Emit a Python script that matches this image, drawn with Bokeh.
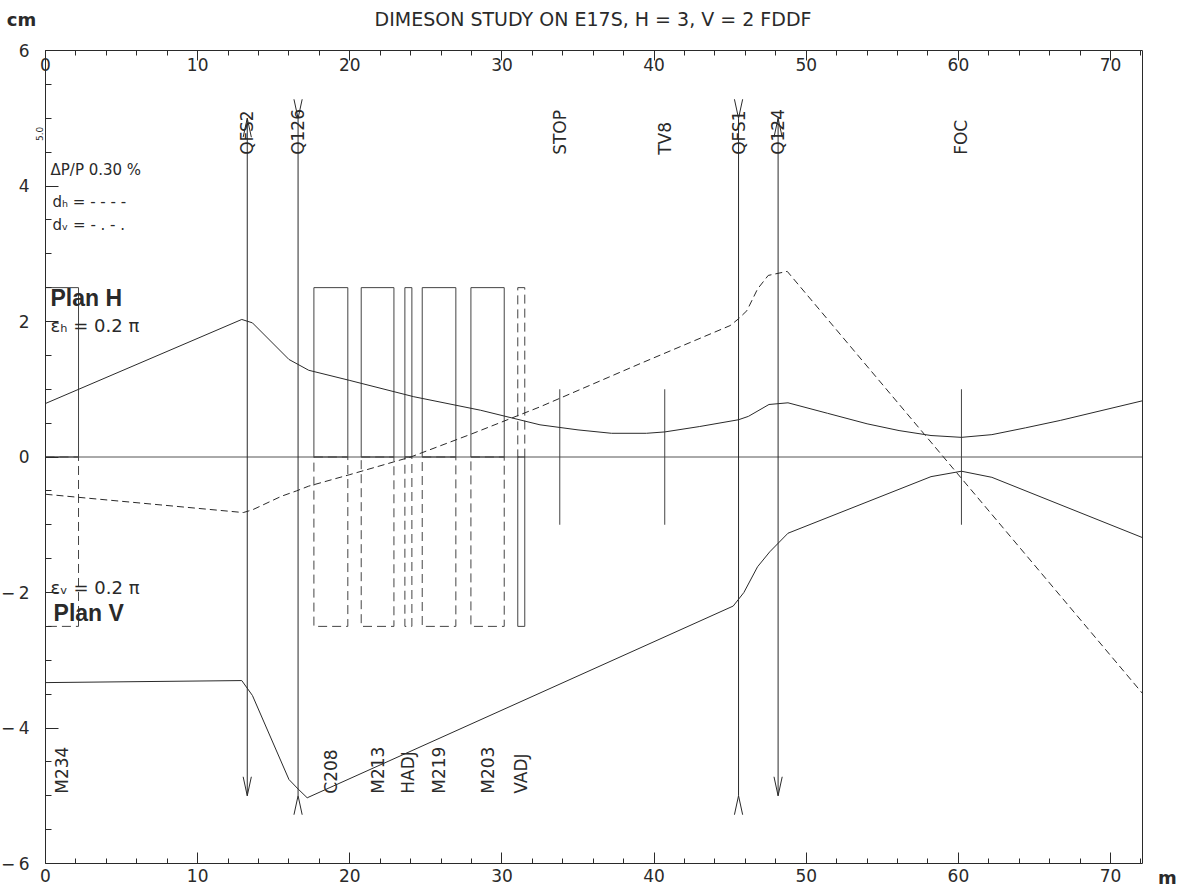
import math
from bokeh.plotting import figure
from bokeh.models import Range1d, FixedTicker, LinearAxis, Label, CustomJSTickFormatter
from bokeh.core.properties import value
from bokeh.embed import file_html
from bokeh.resources import INLINE

# ---------------- data ----------------
X_MAX = 72.1
Y_MIN, Y_MAX = -6, 6
x_major = [0, 10, 20, 30, 40, 50, 60, 70]
x_minor = [v for v in range(2, 73, 2) if v % 10]
y_major = [-6, -4, -2, 0, 2, 4, 6]
y_minor = [v / 2 for v in range(-11, 12) if v % 4]

# horizontal envelope (cm) vs s (m)
env_h_x = [0, 12.9, 13.6, 16.0, 17.3, 20.0, 24.2, 28.6, 32.5, 35.0, 37.2, 39.5,
           40.7, 43.0, 45.55, 46.2, 47.55, 48.8, 51.4, 54.0, 56.1, 58.2, 60.2,
           62.2, 64.4, 66.7, 72.1]
env_h_y = [0.79, 2.03, 1.98, 1.44, 1.28, 1.13, 0.89, 0.69, 0.475, 0.40, 0.35, 0.35,
           0.37, 0.45, 0.55, 0.60, 0.775, 0.80, 0.645, 0.49, 0.39, 0.317, 0.29,
           0.33, 0.43, 0.54, 0.83]

# horizontal dispersion d_h (dashed)
disp_h_x = [0, 13.0, 13.6, 15.5, 16.5, 17.3, 20.0, 24.0, 28.0, 32.5, 39.1, 45.0,
            45.55, 46.1, 46.8, 47.5, 48.75, 72.1]
disp_h_y = [-0.55, -0.82, -0.78, -0.58, -0.50, -0.43, -0.26, 0.0, 0.34, 0.74, 1.38,
            1.94, 2.04, 2.16, 2.48, 2.68, 2.74, -3.49]

# vertical envelope (drawn negative)
env_v_x = [0, 12.9, 13.6, 16.0, 16.6, 17.2, 45.2, 45.9, 46.8, 47.6, 48.8, 58.2,
           60.2, 62.2, 72.1]
env_v_y = [-3.33, -3.30, -3.52, -4.76, -4.90, -5.03, -2.20, -2.00, -1.62, -1.40,
           -1.125, -0.29, -0.21, -0.30, -1.19]

# magnets (bending / correctors)
mag_names = ["M234", "C208", "M213", "HADJ", "M219", "M203", "VADJ"]
mag_start = [0.0, 17.64, 20.75, 23.62, 24.76, 27.96, 31.04]
mag_end = [2.17, 19.87, 22.90, 24.08, 26.97, 30.15, 31.50]
mag_plane = ["H", "H", "H", "H", "H", "H", "V"]
MAG_HALF = 2.5

# quadrupoles
quad_names = ["QFS2", "Q126", "QFS1", "Q124"]
quad_pos = [13.26, 16.60, 45.55, 48.15]
quad_type = ["F", "D", "D", "F"]
QUAD_HALF = 5.0

# monitors / markers
mon_names = ["STOP", "TV8", "FOC"]
mon_pos = [33.8, 40.7, 60.2]
MON_HALF = 1.0

TITLE = "DIMESON STUDY ON E17S, H = 3, V = 2 FDDF"

# ---------------- style / layout ----------------
INK = "#2a2a2a"
FONT = "DejaVu Sans"
W, H = 1185, 890
ML, MR, MT, MB = 45, 43, 50, 27          # margins of the drawing box (px)
PX_X = (W - ML - MR) / X_MAX              # px per m
PX_Y = (H - MT - MB) / (Y_MAX - Y_MIN)    # px per cm

p = figure(width=W, height=H,
           x_range=Range1d(-ML / PX_X, X_MAX + MR / PX_X),
           y_range=Range1d(Y_MIN - MB / PX_Y, Y_MAX + MT / PX_Y),
           output_backend="svg", toolbar_location=None,
           x_axis_type=None, y_axis_type=None,
           min_border=0, min_border_left=0, min_border_right=0,
           min_border_top=0, min_border_bottom=0)
p.xgrid.visible = False
p.ygrid.visible = False
p.outline_line_color = None
p.background_fill_color = "white"
p.border_fill_color = "white"


def style_axis(ax, tin, tout, mtin, mtout):
    ax.axis_line_color = INK
    ax.axis_line_width = 1
    ax.major_tick_line_color = INK
    ax.minor_tick_line_color = INK
    ax.major_tick_in = tin
    ax.major_tick_out = tout
    ax.minor_tick_in = mtin
    ax.minor_tick_out = mtout
    ax.major_label_text_font = FONT
    ax.major_label_text_font_size = "17px"
    ax.major_label_text_color = INK


xt = FixedTicker(ticks=x_major, minor_ticks=x_minor)
yt = FixedTicker(ticks=y_major, minor_ticks=y_minor)

bottom = LinearAxis(ticker=xt, fixed_location=Y_MIN, bounds=(0, X_MAX))
style_axis(bottom, 11, 0, 5, 0)
bottom.major_label_standoff = 5
p.add_layout(bottom, "below")

# top frame edge: ticks hang down into the box, labels inside the box
top = LinearAxis(ticker=FixedTicker(ticks=x_major, minor_ticks=x_minor),
                 fixed_location=Y_MAX, bounds=(0, X_MAX))
style_axis(top, 0, 10, 0, 5)
top.major_label_standoff = -3
p.add_layout(top, "below")

left = LinearAxis(ticker=yt, fixed_location=0, bounds=(Y_MIN, Y_MAX))
style_axis(left, 13, 0, 6, 0)
left.major_label_standoff = 16
left.formatter = CustomJSTickFormatter(
    code="return tick < 0 ? '\\u2212\\u2009' + Math.abs(tick) : String(tick);")
p.add_layout(left, "left")

right = LinearAxis(ticker=FixedTicker(ticks=[]), fixed_location=X_MAX,
                   bounds=(Y_MIN, Y_MAX))
style_axis(right, 0, 0, 0, 0)
p.add_layout(right, "right")

# zero line
p.segment(x0=[0], y0=[0], x1=[X_MAX], y1=[0], line_color="#555", line_width=1)

# magnets
groups = {("up", "solid"): ([], []), ("up", "dash"): ([], []),
          ("lo", "solid"): ([], []), ("lo", "dash"): ([], [])}
for s, e, pl in zip(mag_start, mag_end, mag_plane):
    ku = ("up", "solid" if pl == "H" else "dash")
    kl = ("lo", "dash" if pl == "H" else "solid")
    for k in (ku, kl):
        groups[k][0].append(s)
        groups[k][1].append(e)
for (half, style), (ls, rs) in groups.items():
    if not ls:
        continue
    bot, topv = (0, MAG_HALF) if half == "up" else (-MAG_HALF, 0)
    p.quad(left=ls, right=rs, bottom=bot, top=topv, fill_color=None,
           line_color="#444", line_width=1,
           line_dash="solid" if style == "solid" else "9 5")

# quadrupoles
p.segment(x0=quad_pos, y0=[-QUAD_HALF] * len(quad_pos), x1=quad_pos,
          y1=[QUAD_HALF] * len(quad_pos), line_color=INK, line_width=1)
AW, AH = 0.27, 0.28
hx, hy = [], []
for xq, t in zip(quad_pos, quad_type):
    sgn = -1 if t == "F" else 1
    hx.append([xq - AW, xq, xq + AW])
    hy.append([QUAD_HALF + sgn * AH, QUAD_HALF, QUAD_HALF + sgn * AH])
    hx.append([xq - AW, xq, xq + AW])
    hy.append([-QUAD_HALF - sgn * AH, -QUAD_HALF, -QUAD_HALF - sgn * AH])
p.multi_line(xs=hx, ys=hy, line_color=INK, line_width=1)

# monitors
p.segment(x0=mon_pos, y0=[-MON_HALF] * len(mon_pos), x1=mon_pos,
          y1=[MON_HALF] * len(mon_pos), line_color="#444", line_width=1)

# curves
p.line(env_h_x, env_h_y, line_color=INK, line_width=1)
p.line(env_v_x, env_v_y, line_color=INK, line_width=1)
p.line(disp_h_x, disp_h_y, line_color=INK, line_width=1, line_dash="7 4")

# element labels (vertical)
top_names = quad_names + mon_names
top_x = quad_pos + mon_pos
p.text(x=top_x, y=[4.46] * len(top_x), text=top_names, angle=math.pi / 2,
       text_align="left", text_baseline="middle", text_font=value(FONT),
       text_font_size="17px", text_color=INK)
mag_mid = [(s + e) / 2 for s, e in zip(mag_start, mag_end)]
p.text(x=mag_mid, y=[-4.97] * len(mag_mid), text=mag_names, angle=math.pi / 2,
       text_align="left", text_baseline="middle", text_font=value(FONT),
       text_font_size="17px", text_color=INK)


def lab(x, y, t, size, bold=False, align="left", angle=0.0, font=FONT):
    p.add_layout(Label(x=x, y=y, text=t, text_font=font, text_font_size=size,
                       text_font_style="bold" if bold else "normal", text_color=INK,
                       text_align=align, text_baseline="middle", angle=angle))


lab(0.33, 4.23, "ΔP/P 0.30 %", "15px")
lab(0.46, 3.76, "dₕ = - - - -", "15px")
lab(0.46, 3.43, "dᵥ = - . - .", "15px")
lab(0.33, 2.34, "Plan H", "23px", bold=True, font="Liberation Sans")
lab(0.33, 1.94, "εₕ = 0.2 π", "18px")
lab(0.33, -1.93, "εᵥ = 0.2 π", "18px")
lab(0.53, -2.30, "Plan V", "23px", bold=True, font="Liberation Sans")
lab(-6 / PX_X, 4.77, "5.0", "9px", align="center", angle=math.pi / 2)
lab((W / 2 - ML) / PX_X, Y_MAX + (MT - 18) / PX_Y, TITLE, "19px", align="center")
lab(-24 / PX_X, Y_MAX + (MT - 19) / PX_Y, "cm", "18px", bold=True, align="center")
lab(X_MAX + 25 / PX_X, Y_MIN - 14 / PX_Y, "m", "18px", bold=True, align="center")

open("out.html", "w").write(file_html(p, INLINE))
